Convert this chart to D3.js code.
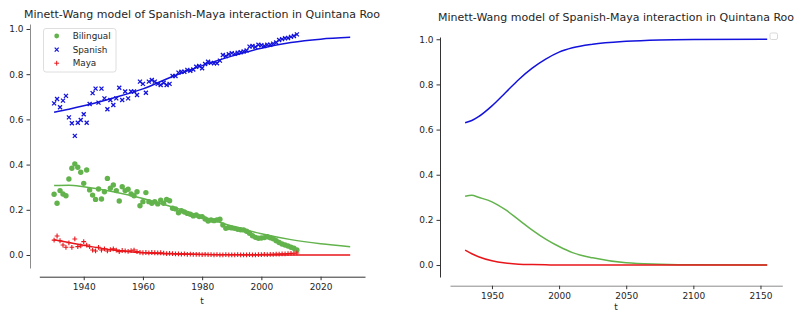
<!DOCTYPE html>
<html>
<head>
<meta charset="utf-8">
<script src="https://cdn.jsdelivr.net/npm/d3@7"></script>
<style>
  body { margin: 0; background: #fff; }
  text { font-family: "DejaVu Sans", sans-serif; fill: #262626; }
</style>
</head>
<body>
<div id="chart"></div>
<script>
// observed census shares, one value per year
var years = [1930,1931,1932,1933,1934,1935,1936,1937,1938,1939,1940,1941,1942,1943,1944,1945,1946,1947,1948,1949,
  1950,1951,1952,1953,1954,1955,1956,1957,1958,1959,1960,1961,1962,1963,1964,1965,1966,1967,1968,1969,
  1970,1971,1972,1973,1974,1975,1976,1977,1978,1979,1980,1981,1982,1983,1984,1985,1986,1987,1988,1989,
  1990,1991,1992,1993,1994,1995,1996,1997,1998,1999,2000,2001,2002,2003,2004,2005,2006,2007,2008,2009,
  2010,2011,2012];
var spanish = [0.671,0.690,0.654,0.683,0.704,0.609,0.583,0.527,0.585,0.597,0.623,0.585,0.668,0.716,0.736,0.674,0.736,0.693,0.645,0.686,
  0.664,0.693,0.740,0.686,0.723,0.693,0.723,0.723,0.708,0.767,0.757,0.718,0.767,0.774,0.767,0.757,0.752,0.762,0.752,0.757,
  0.792,0.792,0.807,0.811,0.811,0.819,0.815,0.821,0.833,0.836,0.826,0.845,0.855,0.850,0.848,0.848,0.860,0.885,0.880,0.888,
  0.893,0.890,0.895,0.897,0.900,0.905,0.922,0.925,0.920,0.930,0.928,0.925,0.930,0.930,0.935,0.940,0.951,0.955,0.959,0.960,
  0.965,0.969,0.976];
var bilingual = [0.269,0.229,0.285,0.270,0.262,0.336,0.384,0.403,0.388,0.366,0.317,0.376,0.288,0.265,0.246,0.292,0.248,0.280,0.339,0.295,
  0.310,0.285,0.239,0.302,0.285,0.291,0.270,0.262,0.280,0.218,0.236,0.276,0.236,0.229,0.236,0.226,0.243,0.229,0.246,0.240,
  0.207,0.204,0.187,0.196,0.190,0.184,0.180,0.173,0.177,0.170,0.170,0.159,0.150,0.155,0.152,0.155,0.158,0.133,0.118,0.122,
  0.120,0.118,0.114,0.112,0.111,0.105,0.096,0.085,0.078,0.074,0.075,0.077,0.081,0.076,0.072,0.063,0.055,0.049,0.044,0.040,
  0.034,0.030,0.022];
var maya = [0.066,0.084,0.063,0.044,0.034,0.054,0.034,0.071,0.037,0.040,0.059,0.044,0.037,0.022,0.018,0.034,0.022,0.027,0.018,0.024,
  0.027,0.022,0.015,0.020,0.018,0.016,0.019,0.022,0.015,0.012,0.010,0.011,0.009,0.011,0.010,0.009,0.010,0.008,0.006,0.007,
  0.006,0.005,0.005,0.004,0.005,0.003,0.004,0.003,0.003,0.003,0.002,0.003,0.002,0.002,0.001,0.002,0.001,0.001,0.002,0.001,
  0.001,0.001,0.002,0.001,0.001,0.001,0.002,0.001,0.001,0.002,0.002,0.003,0.002,0.003,0.003,0.004,0.004,0.005,0.005,0.006,
  0.007,0.008,0.009];

// fitted model, left panel (1930-2030)
var fitYears     = [1930, 1935, 1940, 1950, 1960, 1970, 1980, 1990, 2000, 2010, 2020, 2030];
var fitSpanish   = [0.632, 0.645, 0.660, 0.695, 0.735, 0.790, 0.838, 0.880, 0.915, 0.940, 0.955, 0.963];
var fitBilingual = [0.307, 0.309, 0.302, 0.280, 0.250, 0.212, 0.170, 0.128, 0.094, 0.068, 0.050, 0.037];
var fitMaya      = [0.067, 0.055, 0.043, 0.022, 0.010, 0.005, 0.002, 0.001, 0.000, 0.000, 0.000, 0.000];

// model run, right panel (1930-2155)
var runYears     = [1930, 1935, 1940, 1950, 1960, 1970, 1980, 1990, 2000, 2010, 2025, 2050, 2075, 2100, 2155];
var runSpanish   = [0.630, 0.640, 0.657, 0.705, 0.763, 0.822, 0.872, 0.912, 0.943, 0.962, 0.978, 0.991, 0.997, 0.999, 1.000];
var runBilingual = [0.305, 0.309, 0.300, 0.280, 0.245, 0.200, 0.155, 0.115, 0.082, 0.055, 0.032, 0.010, 0.004, 0.001, 0.000];
var runMaya      = [0.066, 0.050, 0.037, 0.019, 0.009, 0.004, 0.002, 0.001, 0.000, 0.000, 0.000, 0.000, 0.000, 0.000, 0.000];

var yTicks = [0, 0.2, 0.4, 0.6, 0.8, 1.0];
var leftXTicks = [1940, 1960, 1980, 2000, 2020];
var rightXTicks = [1950, 2000, 2050, 2100, 2150];
var title = "Minett-Wang model of Spanish-Maya interaction in Quintana Roo";

var green = "#62b34c", blue = "#1212dc", red = "#e8161b";

var svg = d3.select("#chart").append("svg")
    .attr("width", 803)
    .attr("height", 311);

function axisStyle(g, spine) {
    g.selectAll(".domain").attr("stroke", spine).attr("stroke-width", 1);
    g.selectAll(".tick line").attr("stroke", "#333");
    g.selectAll(".tick text").attr("font-size", "9px").attr("fill", "#262626")
        .style("font-family", "DejaVu Sans");
}

//left panel
var xL = d3.scaleLinear().domain([1925, 2035]).range([39.3, 365]);
var yL = d3.scaleLinear().domain([-0.0575, 1.022]).range([268, 24]);

svg.append("g")
    .attr("transform", "translate(30,0)")
    .call(d3.axisLeft(yL).tickValues(yTicks).tickFormat(d3.format(".1f")).tickSize(3.5).tickPadding(3).tickSizeOuter(0))
    .call(axisStyle, "#8c8c8c");

svg.append("g")
    .attr("transform", "translate(0,276.7)")
    .call(d3.axisBottom(xL).tickValues(leftXTicks).tickFormat(d3.format("d")).tickSize(3.5).tickPadding(3).tickSizeOuter(0))
    .call(axisStyle, "#333");

svg.append("text").attr("x", 202).attr("y", 18).attr("text-anchor", "middle")
    .attr("font-size", "11px").text(title);
svg.append("text").attr("x", 202).attr("y", 303.5).attr("text-anchor", "middle")
    .attr("font-size", "9px").text("t");

function fitLine(xs, ys, x, y) {
    return d3.line()
        .x(function(d, i) { return x(xs[i]); })
        .y(function(d) { return y(d); })
        .curve(d3.curveMonotoneX)(ys);
}

var circlePts = years.map(function(t, i) { return [t, bilingual[i]]; });
var crossPts = years.map(function(t, i) { return [t, spanish[i]]; });
var plusPts = years.map(function(t, i) { return [t, maya[i]]; });

var xMark = "M-2,-2L2,2M-2,2L2,-2";
var plusMark = "M-2.4,0L2.4,0M0,-2.4L0,2.4";

svg.append("g").selectAll("circle")
    .data(circlePts)
    .join("circle")
    .attr("cx", function(d) { return xL(d[0]); })
    .attr("cy", function(d) { return yL(d[1]); })
    .attr("r", 2.7)
    .attr("fill", green);

svg.append("g").selectAll("path")
    .data(crossPts)
    .join("path")
    .attr("transform", function(d) { return "translate(" + xL(d[0]) + "," + yL(d[1]) + ")"; })
    .attr("d", xMark)
    .attr("stroke", blue)
    .attr("stroke-width", 1.3)
    .attr("fill", "none");

svg.append("g").selectAll("path")
    .data(plusPts)
    .join("path")
    .attr("transform", function(d) { return "translate(" + xL(d[0]) + "," + yL(d[1]) + ")"; })
    .attr("d", plusMark)
    .attr("stroke", red)
    .attr("stroke-width", 1.1)
    .attr("fill", "none");

[[fitBilingual, green], [fitSpanish, blue], [fitMaya, red]].forEach(function(s) {
    svg.append("path")
        .attr("d", fitLine(fitYears, s[0], xL, yL))
        .attr("fill", "none")
        .attr("stroke", s[1])
        .attr("stroke-width", 1.5);
});

// legend
var legend = svg.append("g");
legend.append("rect")
    .attr("x", 43.5).attr("y", 28.5).attr("width", 72.5).attr("height", 43.5).attr("rx", 2.5)
    .attr("fill", "#fff").attr("fill-opacity", 0.8).attr("stroke", "#d6d6d6").attr("stroke-width", 0.8);
var legendItems = [["Bilingual", green, "circle"], ["Spanish", blue, "x"], ["Maya", red, "plus"]];
legendItems.forEach(function(d, i) {
    var yy = 36 + i * 13.6;
    if (d[2] === "circle") {
        legend.append("circle").attr("cx", 56.7).attr("cy", yy).attr("r", 2.4).attr("fill", d[1]);
    } else {
        legend.append("path")
            .attr("transform", "translate(56.7," + yy + ")")
            .attr("d", d[2] === "x" ? xMark : plusMark)
            .attr("stroke", d[1]).attr("stroke-width", d[2] === "x" ? 1.2 : 1.0).attr("fill", "none");
    }
    legend.append("text").attr("x", 72.7).attr("y", yy + 3.2)
        .attr("font-size", "8.8px").text(d[0]);
});

//right panel
var xR = d3.scaleLinear().domain([1918.75, 2166.25]).range([450, 782.3]);
var yR = d3.scaleLinear().domain([-0.053, 1.010]).range([277, 37]);

svg.append("g")
    .attr("transform", "translate(440,0)")
    .call(d3.axisLeft(yR).tickValues(yTicks).tickFormat(d3.format(".1f")).tickSize(3.5).tickPadding(3).tickSizeOuter(0))
    .call(axisStyle, "#333");

svg.append("g")
    .attr("transform", "translate(0,285.7)")
    .call(d3.axisBottom(xR).tickValues(rightXTicks).tickFormat(d3.format("d")).tickSize(3.5).tickPadding(3).tickSizeOuter(0))
    .call(axisStyle, "#8c8c8c");

svg.append("text").attr("x", 616).attr("y", 21).attr("text-anchor", "middle")
    .attr("font-size", "11px").text(title);
// axis label pushed to the bottom edge like the original, but kept inside the window
svg.append("text").attr("x", 616).attr("y", 309.5).attr("text-anchor", "middle")
    .attr("font-size", "9px").text("t");

[[runSpanish, blue], [runBilingual, green], [runMaya, red]].forEach(function(s) {
    svg.append("path")
        .attr("d", fitLine(runYears, s[0], xR, yR))
        .attr("fill", "none")
        .attr("stroke", s[1])
        .attr("stroke-width", 1.5);
});

// empty legend box
svg.append("rect")
    .attr("x", 770).attr("y", 33).attr("width", 7.5).attr("height", 6.5).attr("rx", 1.5)
    .attr("fill", "#fff").attr("stroke", "#cfcfcf").attr("stroke-width", 0.8);
</script>
</body>
</html>
